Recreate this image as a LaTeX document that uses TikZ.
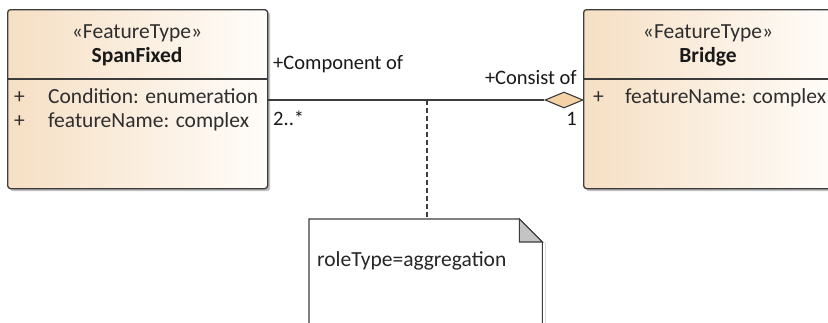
\documentclass[tikz,border=0pt]{standalone}
\usepackage{fontspec}
\setmainfont{Carlito}
\usetikzlibrary{shapes.geometric,shadows}
\definecolor{peach}{HTML}{F6DFC4}
\definecolor{peachend}{HTML}{FFFDFA}
\definecolor{bordercol}{HTML}{3C3C3C}
\definecolor{txtcol}{HTML}{2E2E2E}
\definecolor{diafill}{HTML}{F5D2A6}
\definecolor{foldcol}{HTML}{C4C4C4}
\tikzset{
  classbox/.style={draw=bordercol, line width=1.3pt, rounded corners=3pt,
    shading=axis, left color=peach, right color=peachend, shading angle=90,
    drop shadow={shadow xshift=2.5pt, shadow yshift=-2.5pt, fill=black, opacity=0.25},
    anchor=north west, inner sep=0pt},
  divider/.style={draw=bordercol, line width=1.1pt},
  basetext/.style={inner sep=0pt, text height=12pt, text depth=3pt},
  stereo/.style={basetext, font=\fontsize{21.5}{25}\selectfont, text=txtcol},
  cname/.style={basetext, font=\fontsize{21.5}{25}\selectfont\bfseries, text=black!90},
  attr/.style={basetext, font=\fontsize{21.5}{25}\selectfont, text=txtcol, anchor=west},
  lbl/.style={basetext, font=\fontsize{20.5}{24}\selectfont, text=black!90},
  assoc/.style={draw=bordercol, line width=1.1pt},
  aggdiamond/.style={diamond, draw=bordercol, line width=1.1pt, fill=diafill,
    minimum width=38pt, minimum height=16pt, inner sep=0pt},
  noteline/.style={draw=bordercol, line width=1.1pt, dash pattern=on 5pt off 3pt},
  noteshape/.style={draw=none, anchor=north west, minimum width=233pt, minimum height=115pt, inner sep=0pt},
}
\begin{document}
\begin{tikzpicture}[x=1pt,y=-1pt]
\useasboundingbox (0,0) rectangle (828,322);
\clip (0,0) rectangle (828,322);
\fill[white] (0,0) rectangle (828,322);

% SpanFixed class
\node[classbox, minimum width=260pt, minimum height=179pt] (sf) at (7,9) {};
\draw[divider] (sf.west |- 0,79) -- (sf.east |- 0,79);
\node[stereo] (sfst) at (137,34) {«FeatureType»};
\node[cname] (sfnm) at (137,58) {SpanFixed};
\node[attr] (sfp1) at (14,99) {+};
\node[attr] (sfa1) at (48,99) {Condition: enumeration};
\node[attr] (sfp2) at (14,123) {+};
\node[attr] (sfa2) at (48,123) {featureName: complex};

% Bridge class
\node[classbox, minimum width=252pt, minimum height=179pt] (br) at (583,9) {};
\draw[divider] (br.west |- 0,79) -- (br.east |- 0,79);
\node[stereo] (brst) at (708,34) {«FeatureType»};
\node[cname] (brnm) at (708,58) {Bridge};
\node[attr] (brp1) at (593,99) {+};
\node[attr] (bra1) at (625,99) {featureName: complex};

% aggregation
\node[aggdiamond] (dia) at (564,100) {};
\draw[assoc] (sf.east |- dia.west) -- (dia.west);
\coordinate (mid) at (427,100);

\node[lbl, anchor=west] (l1) at (273,65) {+Component of};
\node[lbl, anchor=east] (l2) at (577,80) {+Consist of};
\node[lbl, anchor=west] (m1) at (273,121) {2..*};
\node[lbl, anchor=east] (m2) at (577,121) {1};

% note
\node[noteshape] (note) at (309,219) {};
\fill[black, opacity=0.15] ([xshift=2.5pt,yshift=-2.5pt]note.north east) ++(0,-20pt) rectangle ([xshift=3pt]note.south east);
\filldraw[fill=white, draw=bordercol, line width=1.1pt]
  (note.north west) -- ([xshift=-23pt]note.north east) -- ([yshift=-23pt]note.north east)
  -- (note.south east) -- (note.south west) -- cycle;
\filldraw[fill=foldcol, draw=bordercol, line width=1.1pt]
  ([xshift=-23pt]note.north east) -- ([xshift=-23pt,yshift=-23pt]note.north east) -- ([yshift=-23pt]note.north east) -- cycle;
\node[attr, text=black!85] (nt) at (317,262) {roleType=aggregation};
\draw[noteline] (mid) -- (mid |- note.north);
\end{tikzpicture}
\end{document}
